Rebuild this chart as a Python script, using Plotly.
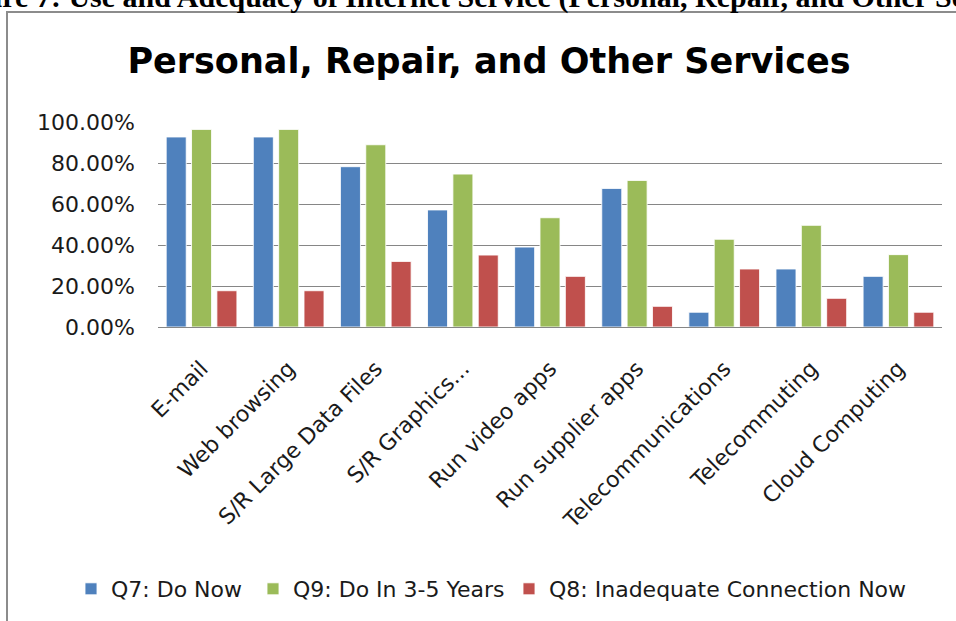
import plotly.graph_objects as go

# Survey results: share of respondents per internet use
categories = [
    "E-mail", "Web browsing", "S/R Large Data Files", "S/R Graphics...",
    "Run video apps", "Run supplier apps", "Telecommunications",
    "Telecommuting", "Cloud Computing",
]
do_now = [0.927, 0.927, 0.782, 0.571, 0.390, 0.676, 0.072, 0.283, 0.247]
do_3_5_years = [0.964, 0.964, 0.889, 0.746, 0.533, 0.715, 0.428, 0.496, 0.353]
inadequate_now = [0.177, 0.177, 0.320, 0.351, 0.247, 0.101, 0.283, 0.140, 0.072]

series_names = ["Q7: Do Now", "Q9: Do In 3-5 Years", "Q8: Inadequate Connection Now"]
series_colors = ["#4F81BD", "#9BBB59", "#C0504D"]

W, H = 956, 621
L, R, T, B = 158, 14, 122, 294
PW, PH = W - L - R, H - T - B


def px_x(x):
    return (x - L) / PW


def px_y(y):
    return (H - B - y) / PH


base_font = "'DejaVu Sans', sans-serif"

# one legend box per series so each entry sits at its own spot in the row
legend_ids = ["legend", "legend2", "legend3"]
legend_left = [71, 253, 509]

fig = go.Figure()
for name, vals, col, lid in zip(series_names, [do_now, do_3_5_years, inadequate_now],
                                series_colors, legend_ids):
    fig.add_trace(go.Bar(
        x=categories, y=vals, name=name, legend=lid,
        marker=dict(color=col, line=dict(color="rgba(255,255,255,0.85)", width=1)),
    ))

legend_style = dict(
    orientation="h", xanchor="left", y=px_y(589), yanchor="middle",
    font=dict(family=base_font, size=22, color="#1a1a1a"),
    itemwidth=30, bgcolor="rgba(0,0,0,0)",
)

fig.update_layout(
    width=W, height=H,
    margin=dict(l=L, r=R, t=T, b=B),
    paper_bgcolor="white", plot_bgcolor="white",
    barmode="group", bargap=0.127, bargroupgap=0.21,
    font=dict(family=base_font, color="#1a1a1a"),
    title=dict(
        text="<b>Personal, Repair, and Other Services</b>",
        font=dict(family=base_font, size=35, color="black"),
        xref="paper", x=px_x(489), xanchor="center",
        yref="container", y=1 - 61 / H, yanchor="middle",
    ),
    xaxis=dict(
        tickangle=-45, tickfont=dict(size=22, color="#1a1a1a"),
        showline=True, linecolor="#868686", linewidth=1,
        ticks="", showgrid=False, ticklabelstandoff=19,
    ),
    yaxis=dict(
        range=[0, 1.0], tickvals=[0, 0.2, 0.4, 0.6, 0.8, 1.0], tickformat=".2%",
        tickfont=dict(size=22, color="#1a1a1a"),
        showgrid=True, gridcolor="#868686", gridwidth=1,
        zeroline=False, showline=False, ticks="", ticklabelstandoff=22,
    ),
    legend=dict(x=px_x(legend_left[0]), **legend_style),
    legend2=dict(x=px_x(legend_left[1]), **legend_style),
    legend3=dict(x=px_x(legend_left[2]), **legend_style),
    showlegend=True,
)

# Chart-area frame
fig.add_shape(
    type="rect", xref="paper", yref="paper",
    x0=px_x(7), x1=px_x(W + 20), y0=px_y(H + 20), y1=px_y(12),
    line=dict(color="#8c8c8c", width=2), fillcolor="rgba(0,0,0,0)", layer="below",
)

# Figure caption above the chart
fig.add_annotation(
    xref="paper", yref="paper", x=px_x(-58), y=px_y(16),
    xanchor="left", yanchor="bottom", showarrow=False,
    text="<b>Figure 7: Use and Adequacy of Internet Service (Personal, Repair, and Other Services)</b>",
    font=dict(family="'Liberation Serif', 'Times New Roman', serif", size=30, color="black"),
)

fig.write_html("out.html")
